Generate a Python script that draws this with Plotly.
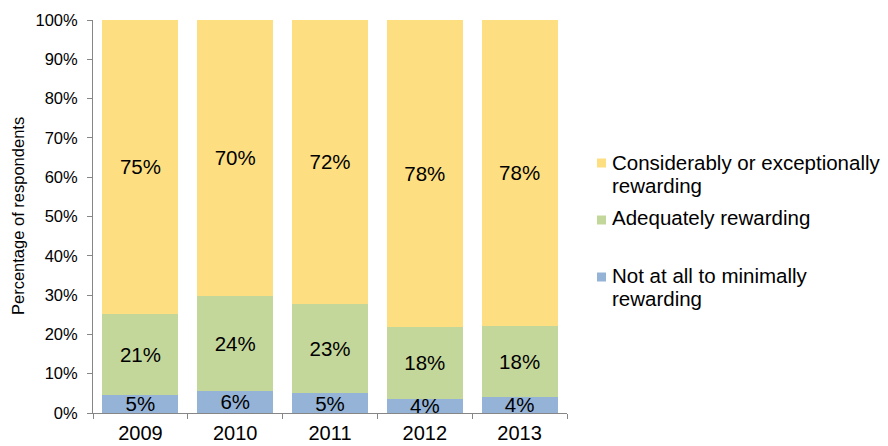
import plotly.graph_objects as go

# Survey responses by year (percent of respondents)
years = ["2009", "2010", "2011", "2012", "2013"]
not_rewarding = [4.6, 5.7, 5.0, 3.6, 4.1]
adequate = [20.7, 24.1, 22.8, 18.4, 18.1]
considerable = [74.7, 70.2, 72.2, 78.0, 77.8]
y_ticks = [0, 10, 20, 30, 40, 50, 60, 70, 80, 90, 100]

series = [
    (["Not at all to minimally", "rewarding"], not_rewarding, "#95B3D7"),
    (["Adequately rewarding"], adequate, "#C4D79B"),
    (["Considerably or exceptionally", "rewarding"], considerable, "#FDDF82"),
]

FONT = "Arial, Liberation Sans, sans-serif"
W, H = 888, 446
L, R, T, B = 93, 321, 20, 33
PW, PH = W - L - R, H - T - B


def px_x(px):
    return (px - L) / PW


def px_y(py):
    return (H - B - py) / PH


fig = go.Figure()
for name_lines, vals, color in series:
    fig.add_trace(go.Bar(
        x=years, y=vals, name=" ".join(name_lines),
        marker=dict(color=color, line=dict(width=0)),
        texttemplate="%{y:.0f}%",
        textposition="inside",
        insidetextanchor="middle",
        textangle=0,
        constraintext="none",
        textfont=dict(family=FONT, size=20.5, color="#000000"),
        showlegend=False,
    ))

fig.update_layout(
    width=W, height=H,
    margin=dict(l=L, r=R, t=T, b=B, autoexpand=False),
    barmode="stack", bargap=0.2,
    paper_bgcolor="white", plot_bgcolor="white",
    font=dict(family=FONT, color="#000000"),
)

fig.update_xaxes(
    showgrid=False, showline=True, linecolor="#868686", linewidth=1,
    ticks="outside", ticklen=5, tickcolor="#868686", tickson="boundaries",
    tickfont=dict(family=FONT, size=20, color="#000000"),
    automargin=False, ticklabelstandoff=2,
)
fig.update_yaxes(
    range=[0, 100], tickvals=y_ticks, ticktext=[f"{v}%" for v in y_ticks],
    showgrid=False, showline=True, linecolor="#868686", linewidth=1,
    ticks="outside", ticklen=5, tickcolor="#868686", zeroline=False,
    tickfont=dict(family=FONT, size=16.5, color="#000000"),
    automargin=False, ticklabelstandoff=6,
)

# Y-axis title
fig.add_annotation(
    text="Percentage of respondents", textangle=-90,
    xref="paper", yref="paper", x=px_x(18), y=px_y(216),
    xanchor="center", yanchor="middle",
    showarrow=False, font=dict(family=FONT, size=16.5, color="#000000"),
)

# Legend drawn on the right: top to bottom mirrors the stack order
legend_rows = [
    (series[2], [162, 185], 163),
    (series[1], [218], 220),
    (series[0], [275, 298], 277),
]
for (name_lines, _, color), line_ys, sq_cy in legend_rows:
    fig.add_shape(
        type="rect", xref="paper", yref="paper",
        x0=px_x(597), x1=px_x(606), y0=px_y(sq_cy + 4.5), y1=px_y(sq_cy - 4.5),
        fillcolor=color, line=dict(width=0),
    )
    for line, cy in zip(name_lines, line_ys):
        fig.add_annotation(
            text=line, align="left", xanchor="left", yanchor="middle",
            xref="paper", yref="paper", x=px_x(610), y=px_y(cy),
            showarrow=False, font=dict(family=FONT, size=20.5, color="#000000"),
        )

fig.write_html("out.html")
